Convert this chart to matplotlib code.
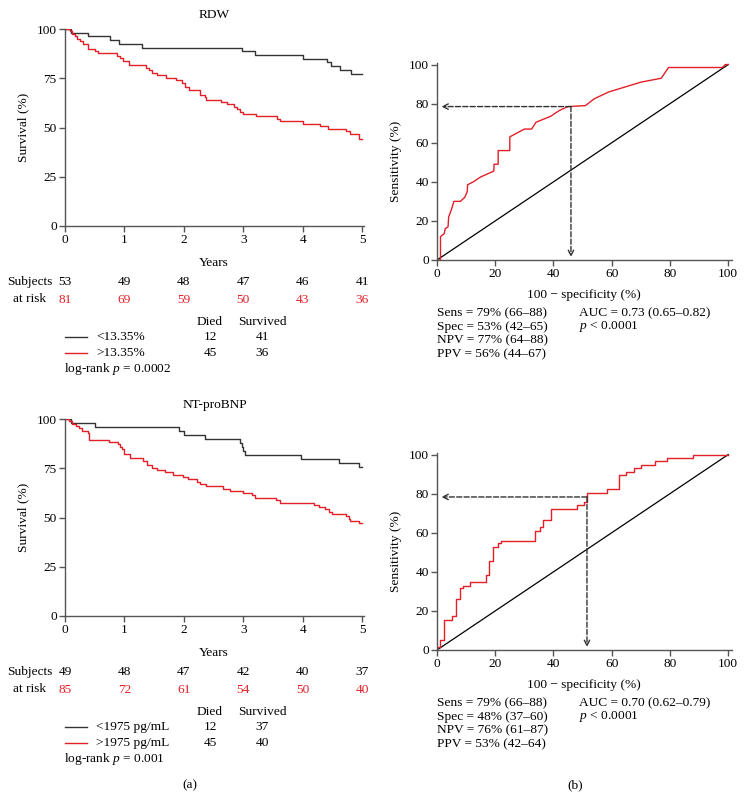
import numpy as np
import matplotlib
matplotlib.use("Agg")
import matplotlib.pyplot as plt
from matplotlib.transforms import blended_transform_factory

plt.rcParams['font.family'] = ['Liberation Serif', 'DejaVu Serif']
plt.rcParams['mathtext.fontset'] = 'custom'
plt.rcParams['mathtext.rm'] = 'Liberation Serif'
plt.rcParams['mathtext.it'] = 'Liberation Serif:italic'
plt.rcParams['font.size'] = 9.6

RED = '#e31f27'
DARK = '#333333'
AXC = '#555555'
FS = 9.6

# ---------------- data ----------------
years = [0, 1, 2, 3, 4, 5]

# RDW Kaplan-Meier (time in years, survival %)
rdw_lo_t = [0, 0.10, 0.39, 0.75, 0.91, 1.30, 2.97, 3.20, 4.01, 4.40, 4.48, 4.63, 4.81, 5.0]
rdw_lo_s = [100, 98.1, 96.2, 94.3, 92.5, 90.6, 88.7, 86.8, 84.9, 83.0, 81.1, 79.2, 77.4, 77.4]
rdw_hi_t = [0, 0.08, 0.12, 0.16, 0.20, 0.25, 0.30, 0.38, 0.50, 0.56, 0.88, 0.93, 0.97, 1.08,
            1.37, 1.42, 1.47, 1.55, 1.70, 1.86, 1.97, 2.02, 2.08, 2.27, 2.35, 2.38, 2.63,
            2.73, 2.85, 2.90, 2.95, 3.00, 3.22, 3.57, 3.62, 4.00, 4.29, 4.43, 4.72, 4.80,
            4.94, 5.0]
rdw_hi_s = [100, 98.8, 97.5, 96.3, 95.1, 93.8, 92.6, 90.1, 88.9, 87.7, 86.4, 85.2, 84.0, 81.5,
            80.2, 79.0, 77.8, 76.5, 75.3, 74.1, 72.8, 70.4, 69.1, 66.7, 65.4, 64.2, 63.0,
            61.7, 60.5, 59.3, 58.0, 56.8, 55.6, 54.3, 53.1, 51.9, 50.6, 49.4, 48.1, 46.9,
            44.4, 44.4]
rdw_risk_lo = [53, 49, 48, 47, 46, 41]
rdw_risk_hi = [81, 69, 59, 50, 43, 36]
rdw_labels = ['<13.35%', '>13.35%']
rdw_died = [12, 45]
rdw_surv = [41, 36]
rdw_logrank = '0.0002'

# NT-proBNP Kaplan-Meier
bnp_lo_t = [0, 0.10, 0.51, 1.92, 2.00, 2.35, 2.94, 2.97, 3.00, 3.02, 3.97, 4.61, 4.94, 5.0]
bnp_lo_s = [100, 98.0, 95.9, 93.9, 91.8, 89.8, 87.8, 85.7, 83.7, 81.6, 79.6, 77.6, 75.5, 75.5]
bnp_hi_t = [0, 0.07, 0.12, 0.18, 0.24, 0.29, 0.38, 0.40, 0.74, 0.90, 0.93, 0.96, 0.99, 1.10,
            1.32, 1.38, 1.46, 1.54, 1.68, 1.82, 1.99, 2.07, 2.22, 2.27, 2.38, 2.66, 2.77,
            2.99, 3.15, 3.19, 3.55, 3.61, 4.19, 4.28, 4.38, 4.44, 4.50, 4.72, 4.78, 4.80,
            4.94, 5.0]
bnp_hi_s = [100, 98.8, 97.6, 96.5, 95.3, 94.1, 92.9, 89.4, 88.2, 87.1, 85.9, 84.7, 82.4, 80.0,
            78.8, 76.5, 75.3, 74.1, 72.9, 71.8, 70.6, 69.4, 68.2, 67.1, 65.9, 64.7, 63.5,
            62.4, 61.2, 60.0, 58.8, 57.6, 56.5, 55.3, 54.1, 52.9, 51.8, 50.6, 49.4, 48.2,
            47.1, 47.1]
bnp_risk_lo = [49, 48, 47, 42, 40, 37]
bnp_risk_hi = [85, 72, 61, 54, 50, 40]
bnp_labels = ['<1975 pg/mL', '>1975 pg/mL']
bnp_died = [12, 45]
bnp_surv = [37, 40]
bnp_logrank = '0.001'

# ROC curves (100 - specificity, sensitivity)
roc1_x = [0, 1.2, 1.2, 2.5, 2.8, 3.8, 4.0, 5.0, 5.8, 8.0, 9.5, 10.4, 10.5, 12.5, 15.0, 19.5,
          19.6, 21.0, 21.0, 25.0, 25.0, 30.0, 32.5, 34.0, 39.0, 42.0, 45.0, 51.0, 54.0, 59.0,
          70.0, 77.0, 79.5, 98.0, 99.0, 100]
roc1_y = [0, 0, 12, 13.5, 16, 17, 22, 26, 30, 30, 32, 35, 38.5, 40, 42.5, 45.5,
          49, 49, 56, 56, 63, 67, 67, 70.5, 73.5, 76.5, 78.5, 79, 82.5, 86,
          91, 93, 98.5, 98.5, 100, 100]
roc1_cut = (46, 78.5)
roc1_stats = ['Sens = 79% (66–88)', 'Spec = 53% (42–65)', 'NPV = 77% (64–88)', 'PPV = 56% (44–67)']
roc1_auc = 'AUC = 0.73 (0.65–0.82)'

roc2_x = [0, 0, 1, 1, 2.5, 2.5, 5, 5, 6.5, 6.5, 7.8, 7.8, 9, 9, 11.5, 11.5, 16.8, 16.8, 18, 18,
          19.4, 19.4, 20.8, 20.8, 22, 22, 33.8, 33.8, 35.2, 35.2, 36.5, 36.5, 39, 39, 48, 48,
          50.5, 50.5, 51.5, 51.5, 58.5, 58.5, 62.5, 62.5, 65, 65, 67.5, 67.5, 70, 70, 75, 75,
          79, 79, 88, 88, 100]
roc2_y = [0, 1.5, 1.5, 5, 5, 15.5, 15.5, 17.5, 17.5, 26, 26, 31.5, 31.5, 33, 33, 35, 35, 38.5, 38.5, 45.5,
          45.5, 52.5, 52.5, 54.5, 54.5, 56, 56, 61, 61, 63, 63, 66.5, 66.5, 72, 72, 74,
          74, 75.5, 75.5, 80.5, 80.5, 82.5, 82.5, 89.5, 89.5, 91, 91, 93, 93, 94.5, 94.5, 96.5,
          96.5, 98, 98, 100, 100]
roc2_cut = (51.5, 78.3)
roc2_stats = ['Sens = 79% (66–88)', 'Spec = 48% (37–60)', 'NPV = 76% (61–87)', 'PPV = 53% (42–64)']
roc2_auc = 'AUC = 0.70 (0.62–0.79)'

# ---------------- layout ----------------
W, H = 750, 798
fig = plt.figure(figsize=(W / 100, H / 100), dpi=100)


def box(x0, y0, x1, y1):
    # pixel box (top-left origin) -> figure fraction
    return [x0 / W, 1 - y1 / H, (x1 - x0) / W, (y1 - y0) / H]


def fy(y):
    return 1 - y / H


def fx(x):
    return x / W


def style(ax):
    for s in ['top', 'right']:
        ax.spines[s].set_visible(False)
    for s in ['left', 'bottom']:
        ax.spines[s].set_color(AXC)
        ax.spines[s].set_linewidth(1.0)
    ax.tick_params(direction='out', length=4, width=1.0, color=AXC, labelsize=FS, pad=2)


def km_panel(top, title, lo_t, lo_s, hi_t, hi_s, risk_lo, risk_hi, labels, died, surv, pval):
    ax = fig.add_axes(box(65, top, 364, top + 197))
    ax.step(lo_t, lo_s, where='post', color=DARK, lw=1.0)
    ax.step(hi_t, hi_s, where='post', color=RED, lw=1.0)
    ax.set_xlim(0, 5.03)
    ax.set_ylim(0, 100)
    ax.set_xticks(years)
    ax.set_yticks([0, 25, 50, 75, 100])
    style(ax)
    ax.set_ylabel('Survival (%)', fontsize=FS, labelpad=5)
    ax.set_title(title, fontsize=FS, pad=8)
    tr = blended_transform_factory(ax.transData, fig.transFigure)
    fig.text(fx(214), fy(top + 234), 'Years', ha='center', va='center', fontsize=FS)
    for t, a, b in zip(years, risk_lo, risk_hi):
        ax.text(t, fy(top + 253), str(a), transform=tr, ha='center', va='center', fontsize=FS, color='black')
        ax.text(t, fy(top + 271), str(b), transform=tr, ha='center', va='center', fontsize=FS, color=RED)
    fig.text(fx(30), fy(top + 253), 'Subjects', ha='center', va='center', fontsize=FS)
    fig.text(fx(30), fy(top + 270), 'at risk', ha='center', va='center', fontsize=FS)
    fig.text(fx(210), fy(top + 293), 'Died', ha='center', va='center', fontsize=FS)
    fig.text(fx(262), fy(top + 293), 'Survived', ha='center', va='center', fontsize=FS)
    for i, (lab, d, s, c) in enumerate(zip(labels, died, surv, [DARK, RED])):
        yy = fy(top + 308 + i * 16)
        fig.add_artist(plt.Line2D([fx(65), fx(87)], [yy, yy], color=c, lw=1.0, transform=fig.transFigure))
        fig.text(fx(96), yy, lab, ha='left', va='center', fontsize=FS)
        fig.text(fx(210), yy, str(d), ha='center', va='center', fontsize=FS)
        fig.text(fx(262), yy, str(s), ha='center', va='center', fontsize=FS)
    fig.text(fx(64), fy(top + 340), 'log-rank $p$ = ' + pval, ha='left', va='center', fontsize=FS)
    return ax


def roc_panel(top, rx, ry, cut, stats, auc):
    ax = fig.add_axes(box(437, top, 732, top + 197))
    ax.plot([0, 100], [0, 100], color='black', lw=0.9)
    ax.plot(rx, ry, color=RED, lw=1.0)
    cx, cy = cut
    ax.annotate('', xy=(1.5, cy), xytext=(cx, cy),
                arrowprops=dict(arrowstyle='->', ls='--', color=DARK, lw=1.0, shrinkA=0, shrinkB=0))
    ax.annotate('', xy=(cx, 1.5), xytext=(cx, cy),
                arrowprops=dict(arrowstyle='->', ls='--', color=DARK, lw=1.0, shrinkA=0, shrinkB=0))
    ax.set_xlim(0, 101.3)
    ax.set_ylim(0, 100.8)
    ax.set_xticks([0, 20, 40, 60, 80, 100])
    ax.set_yticks([0, 20, 40, 60, 80, 100])
    style(ax)
    ax.set_ylabel('Sensitivity (%)', fontsize=FS, labelpad=5)
    fig.text(fx(584), fy(top + 232), '100 − specificity (%)', ha='center', va='center', fontsize=FS)
    for i, s in enumerate(stats):
        fig.text(fx(437), fy(top + 250 + i * 13.7), s, ha='left', va='center', fontsize=FS)
    fig.text(fx(579), fy(top + 250), auc, ha='left', va='center', fontsize=FS)
    fig.text(fx(579), fy(top + 264), '$p$ < 0.0001', ha='left', va='center', fontsize=FS)
    return ax


km_panel(29, 'RDW', rdw_lo_t, rdw_lo_s, rdw_hi_t, rdw_hi_s, rdw_risk_lo, rdw_risk_hi,
         rdw_labels, rdw_died, rdw_surv, rdw_logrank)
km_panel(419, 'NT-proBNP', bnp_lo_t, bnp_lo_s, bnp_hi_t, bnp_hi_s, bnp_risk_lo, bnp_risk_hi,
         bnp_labels, bnp_died, bnp_surv, bnp_logrank)
roc_panel(63, roc1_x, roc1_y, roc1_cut, roc1_stats, roc1_auc)
roc_panel(453, roc2_x, roc2_y, roc2_cut, roc2_stats, roc2_auc)

fig.text(fx(190), fy(785), '(a)', ha='center', va='center', fontsize=FS)
fig.text(fx(575), fy(785), '(b)', ha='center', va='center', fontsize=FS)

fig.savefig('out.png', dpi=100)
